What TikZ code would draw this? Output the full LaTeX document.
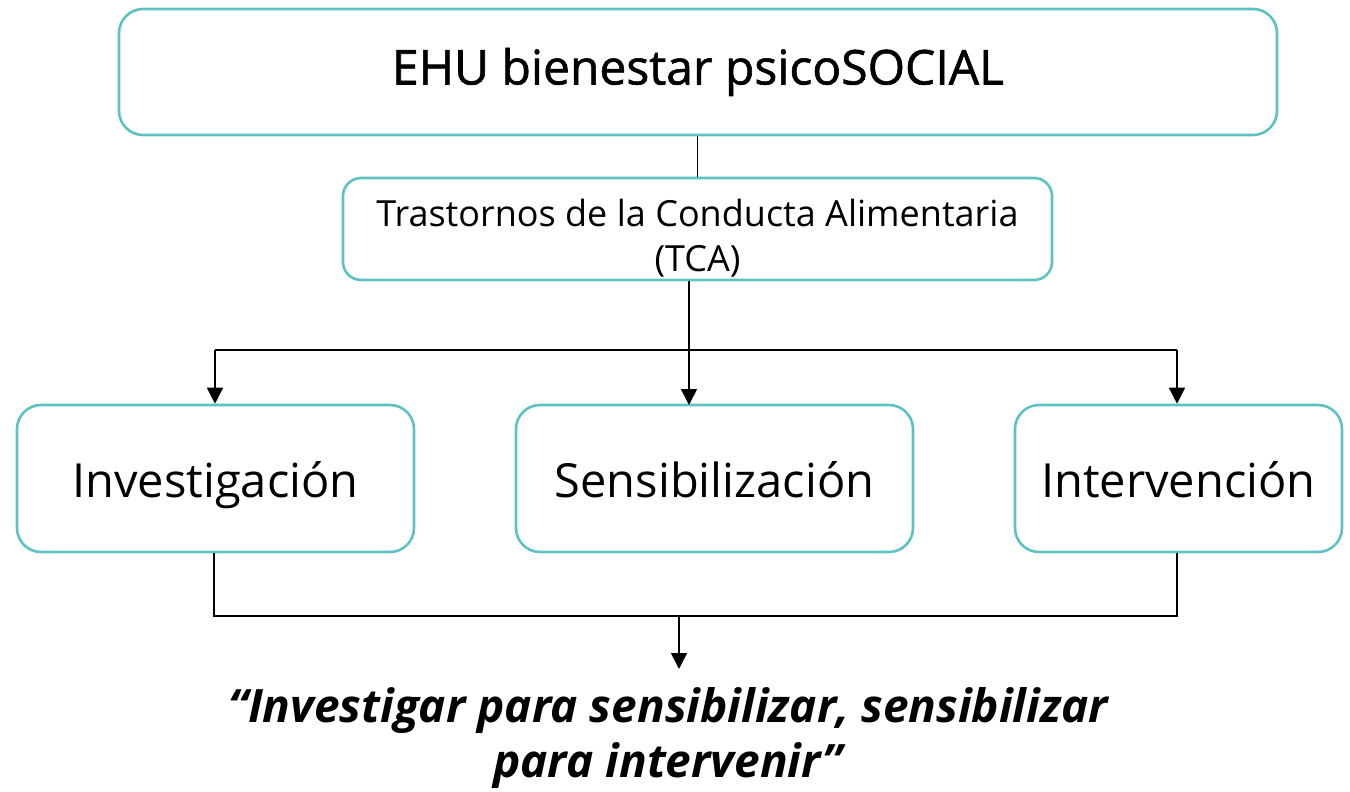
\documentclass[tikz,border=0pt]{standalone}
\usepackage{fontspec}
\setmainfont{Open Sans}
\newfontfamily\titlefont[FakeBold=1.2]{Open Sans}
\usetikzlibrary{arrows.meta}
\definecolor{teal1}{HTML}{5EC1C3}
\tikzset{
  box/.style={draw=teal1, line width=2.6pt, rounded corners=24pt, fill=white, inner sep=0pt},
  bigbox/.style={box, minimum height=147pt, text height=45pt, text depth=8pt, font=\fontsize{47}{56}\selectfont},
  conn/.style={draw=black, line width=1.6pt},
  arr/.style={conn, -{Triangle[width=16pt,length=16pt]}}
}
\begin{document}
\begin{tikzpicture}[x=1pt,y=-1pt]
\useasboundingbox (0,0) rectangle (1350,792);
% boxes
\node[box, minimum width=1158pt, minimum height=126pt, font=\titlefont\fontsize{48}{56}\selectfont] (top) at (698,72) {EHU bienestar psicoSOCIAL};
\node[box, rounded corners=18pt, minimum width=709pt, minimum height=102pt, align=center, font=\fontsize{36}{45}\selectfont] (tca) at (697.5,229) {\rule{0pt}{46pt}Trastornos de la Conducta Alimentaria\\(TCA)};
\node[bigbox, minimum width=397pt] (inv) at (215.5,478.5) {Investigación};
\node[bigbox, minimum width=397pt] (sen) at (714.5,478.5) {Sensibilización};
\node[bigbox, minimum width=327pt] (int) at (1178.5,478.5) {Intervención};
\node[align=center, font=\fontsize{46}{55}\selectfont\bfseries\itshape] (quote) at (668,738) {“Investigar para sensibilizar, sensibilizar\\para intervenir”};
% coordinates
\coordinate (splitL) at (215,350);
\coordinate (splitR) at (1177,350);
\coordinate (joinL) at (214,616);
\coordinate (joinR) at (1177,616);
\coordinate (joinM) at (679,616);
\coordinate (qtop) at (679,669);
% connectors
\draw[conn] (top.south -| tca.north) -- (tca.north);
\draw[arr] (tca.south -| 689,0) -- (689,405);
\draw[conn] (splitL) -- (splitR);
\draw[arr] (splitL) -- (splitL |- inv.north);
\draw[arr] (splitR) -- (splitR |- int.north);
\draw[conn] (joinL |- inv.south) -- (joinL) -- (joinR) -- (joinR |- int.south);
\draw[arr] (joinM) -- (qtop);
\end{tikzpicture}
\end{document}
